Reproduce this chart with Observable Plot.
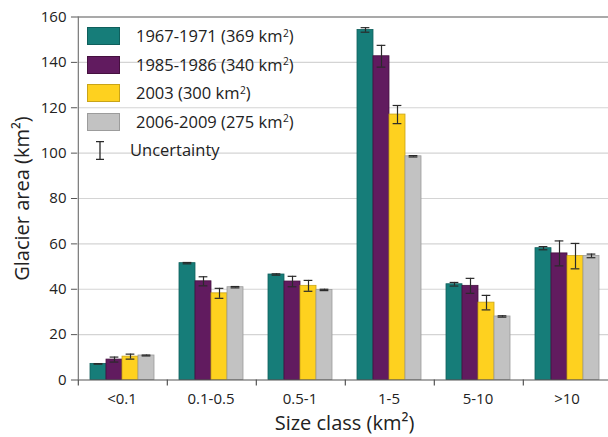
<!DOCTYPE html>
<html><head><meta charset="utf-8">
<script src="https://cdn.jsdelivr.net/npm/d3@7"></script>
<script src="https://cdn.jsdelivr.net/npm/@observablehq/plot@0.6"></script>
<style>
html,body{margin:0;padding:0;background:#fff;}
#chart{position:relative;width:608px;height:437px;font-family:"Open Sans",sans-serif;color:#222;}
#legend{position:absolute;left:87px;top:27px;}
.row{position:absolute;left:0;height:18px;width:260px;}
.sw{position:absolute;left:0;top:0;width:33px;height:18px;}
.lab{position:absolute;top:0;height:18px;line-height:18px;font-size:16.5px;white-space:nowrap;}
.lab sup{font-size:0.62em;position:relative;top:-0.5em;vertical-align:baseline;line-height:0;margin-left:0.5px;}
</style></head><body><div id="chart"></div><script>
// ---- data ----
const sizeClasses = ["<0.1", "0.1-0.5", "0.5-1", "1-5", "5-10", ">10"];
const periods = ["1967-1971", "1985-1986", "2003", "2006-2009"];
const periodTotals = [369, 340, 300, 275];
const area1967 = [7.1, 51.5, 46.5, 154.3, 42.2, 58.1];
const area1985 = [9.0, 43.5, 43.4, 142.7, 41.5, 55.8];
const area2003 = [10.3, 38.2, 41.5, 117.0, 34.1, 54.6];
const area2006 = [10.8, 40.9, 39.7, 98.6, 28.0, 54.7];
const unc1967 = [0.1, 0.3, 0.3, 1.0, 0.8, 0.7];
const unc1985 = [1.1, 2.0, 2.3, 4.8, 3.3, 5.5];
const unc2003 = [1.1, 2.2, 2.4, 4.0, 3.2, 5.6];
const unc2006 = [0.2, 0.3, 0.3, 0.3, 0.3, 0.8];
const yTicks = [0, 20, 40, 60, 80, 100, 120, 140, 160];
const colors = ["#167d79", "#611b5f", "#fed11f", "#c2c2c2"];
const outlines = ["#0f5f5c", "#45103f", "#c9a418", "#9c9c9c"];

const areas = [area1967, area1985, area2003, area2006];
const uncs = [unc1967, unc1985, unc2003, unc2006];
const data = [];
sizeClasses.forEach((c, i) => periods.forEach((p, j) => data.push({size: c, period: p, area: areas[j][i], unc: uncs[j][i]})));

// ---- layout ----
const W = 608, H = 437, ML = 76, MR = -3, MT = 16.5, MB = 57.5;
const pInner = 0.27, pOuter = pInner / 2;
const step = (W - ML - MR) / sizeClasses.length;
const half = step * pOuter;
const xbw = (step - 2 * half) / periods.length;
const toBoundary = -(xbw / 2 + half);
const capInset = (xbw - 9) / 2;

const plot = Plot.plot({
  width: W, height: H,
  marginLeft: ML, marginRight: MR, marginTop: MT, marginBottom: MB,
  style: {fontFamily: "'Open Sans', sans-serif", fontSize: "15px", color: "#222", background: "transparent", overflow: "visible"},
  fx: {domain: sizeClasses, paddingInner: pInner, paddingOuter: pOuter},
  x: {domain: periods, padding: 0, axis: null},
  y: {domain: [0, 160]},
  color: {domain: periods, range: colors},
  marks: [
    Plot.ruleY(yTicks.filter(t => t > 0 && t < 160), {stroke: "#d4d4d4", strokeWidth: 1.2, insetLeft: -half, insetRight: -half}),
    Plot.ruleY([160], {stroke: "#8c8c8c", strokeWidth: 1.6, insetLeft: -half, insetRight: -half}),
    Plot.barY(data, {fx: "size", x: "period", y: "area", fill: "period",
      stroke: d => outlines[periods.indexOf(d.period)], strokeWidth: 0.8}),
    Plot.ruleX(data, {fx: "size", x: "period", y1: d => d.area - d.unc, y2: d => d.area + d.unc, stroke: "#2a2a2a", strokeWidth: 1.2}),
    Plot.tickY(data, {fx: "size", x: "period", y: d => d.area - d.unc, stroke: "#2a2a2a", strokeWidth: 1.2, insetLeft: capInset, insetRight: capInset}),
    Plot.tickY(data, {fx: "size", x: "period", y: d => d.area + d.unc, stroke: "#2a2a2a", strokeWidth: 1.2, insetLeft: capInset, insetRight: capInset}),
    Plot.ruleY([0], {stroke: "#555", strokeWidth: 1.2, insetLeft: -half, insetRight: -half}),
    Plot.ruleX([sizeClasses[0]], {fx: d => d, x: () => periods[0], y1: 0, y2: 160, dx: toBoundary, stroke: "#777", strokeWidth: 1.2}),
    Plot.ruleX(sizeClasses, {fx: d => d, x: () => periods[0], y1: 0, y2: 0, insetBottom: -6, dx: toBoundary, stroke: "#555", strokeWidth: 1.2}),
    Plot.axisY({ticks: yTicks, tickSize: 6, tickPadding: 5, dx: -half, label: null, stroke: "#555", fill: "#222"}),
    Plot.axisY({ticks: [], label: "Glacier area (km²)", labelAnchor: "center", labelArrow: "none", labelOffset: 75, dx: -half, fontSize: 20}),
    Plot.axisFx({anchor: "bottom", tickSize: 0, tickPadding: 13, label: null, fill: "#222"}),
    Plot.axisFx({anchor: "bottom", tickSize: 0, tickFormat: () => "", label: "Size class (km²)", labelAnchor: "center", labelArrow: "none", labelOffset: 50, fontSize: 20})
  ]
});
const chart = document.getElementById("chart");
chart.appendChild(plot);

// ---- legend (overlay) ----
const legend = document.createElement("div");
legend.id = "legend";
const pitch = 28.5;
periods.forEach((p, j) => {
  const row = document.createElement("div");
  row.className = "row";
  row.style.top = (j * pitch) + "px";
  row.innerHTML = `<div class="sw" style="background:${colors[j]};border:0.8px solid ${outlines[j]};box-sizing:border-box"></div>` +
    `<div class="lab" style="left:49px">${p} (${periodTotals[j]} km<sup>2</sup>)</div>`;
  legend.appendChild(row);
});
const urow = document.createElement("div");
urow.className = "row";
urow.style.top = (periods.length * pitch) + "px";
urow.innerHTML = `<svg style="position:absolute;left:8px;top:0" width="10" height="19"><line x1="5" x2="5" y1="0.6" y2="18.4" stroke="#2a2a2a" stroke-width="1.3"/><line x1="1" x2="9" y1="0.6" y2="0.6" stroke="#2a2a2a" stroke-width="1.3"/><line x1="1" x2="9" y1="18.4" y2="18.4" stroke="#2a2a2a" stroke-width="1.3"/></svg>` +
  `<div class="lab" style="left:43px">Uncertainty</div>`;
legend.appendChild(urow);
chart.appendChild(legend);
</script></body></html>
